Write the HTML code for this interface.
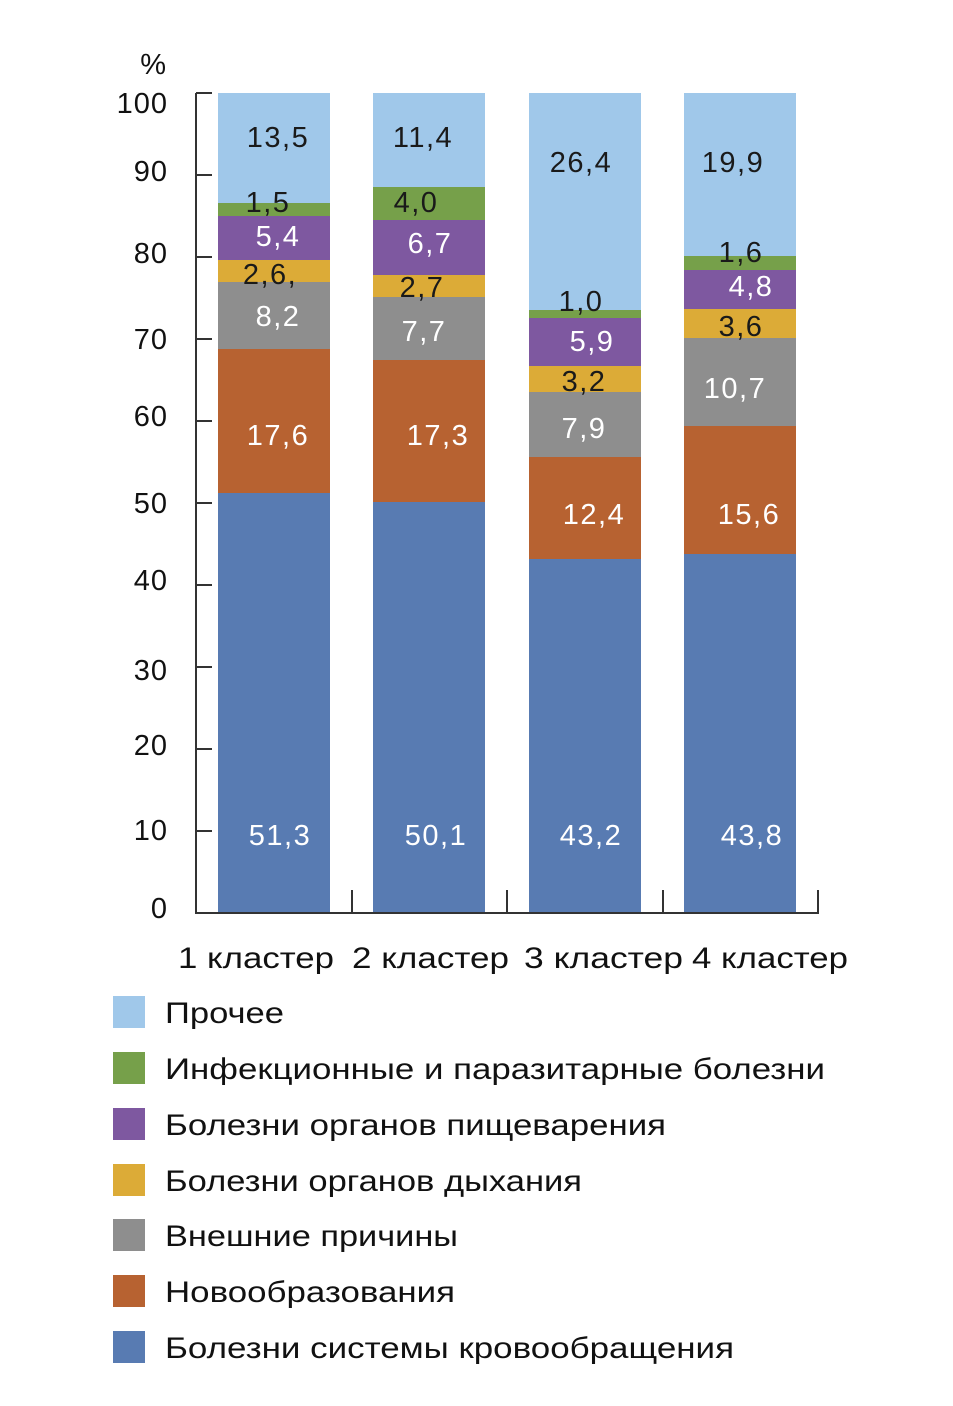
<!DOCTYPE html>
<html><head><meta charset="utf-8"><style>
body{margin:0;background:#fff}
text{font-family:"Liberation Sans",sans-serif}
</style></head><body>
<svg width="953" height="1401" viewBox="0 0 953 1401" xmlns="http://www.w3.org/2000/svg">
<g id="bars">
<rect x="218" y="93" width="112" height="110" fill="#a0c8ea"/>
<rect x="218" y="203" width="112" height="13" fill="#76a04a"/>
<rect x="218" y="216" width="112" height="44" fill="#7e58a0"/>
<rect x="218" y="260" width="112" height="22" fill="#dcab37"/>
<rect x="218" y="282" width="112" height="67" fill="#8e8e8e"/>
<rect x="218" y="349" width="112" height="144" fill="#b76231"/>
<rect x="218" y="493" width="112" height="420" fill="#587bb2"/>
<rect x="373" y="93" width="112" height="94" fill="#a0c8ea"/>
<rect x="373" y="187" width="112" height="33" fill="#76a04a"/>
<rect x="373" y="220" width="112" height="55" fill="#7e58a0"/>
<rect x="373" y="275" width="112" height="22" fill="#dcab37"/>
<rect x="373" y="297" width="112" height="63" fill="#8e8e8e"/>
<rect x="373" y="360" width="112" height="142" fill="#b76231"/>
<rect x="373" y="502" width="112" height="411" fill="#587bb2"/>
<rect x="529" y="93" width="112" height="217" fill="#a0c8ea"/>
<rect x="529" y="310" width="112" height="8" fill="#76a04a"/>
<rect x="529" y="318" width="112" height="48" fill="#7e58a0"/>
<rect x="529" y="366" width="112" height="26" fill="#dcab37"/>
<rect x="529" y="392" width="112" height="65" fill="#8e8e8e"/>
<rect x="529" y="457" width="112" height="102" fill="#b76231"/>
<rect x="529" y="559" width="112" height="354" fill="#587bb2"/>
<rect x="684" y="93" width="112" height="163" fill="#a0c8ea"/>
<rect x="684" y="256" width="112" height="14" fill="#76a04a"/>
<rect x="684" y="270" width="112" height="39" fill="#7e58a0"/>
<rect x="684" y="309" width="112" height="29" fill="#dcab37"/>
<rect x="684" y="338" width="112" height="88" fill="#8e8e8e"/>
<rect x="684" y="426" width="112" height="128" fill="#b76231"/>
<rect x="684" y="554" width="112" height="359" fill="#587bb2"/>
</g>
<g stroke="#333" stroke-width="2" fill="none">
<line x1="196" y1="93" x2="196" y2="914"/>
<line x1="196" y1="913" x2="819" y2="913"/>
<line x1="196" y1="93" x2="212" y2="93"/>
<line x1="196" y1="175" x2="212" y2="175"/>
<line x1="196" y1="257" x2="212" y2="257"/>
<line x1="196" y1="339" x2="212" y2="339"/>
<line x1="196" y1="421" x2="212" y2="421"/>
<line x1="196" y1="503" x2="212" y2="503"/>
<line x1="196" y1="585" x2="212" y2="585"/>
<line x1="196" y1="667" x2="212" y2="667"/>
<line x1="196" y1="749" x2="212" y2="749"/>
<line x1="196" y1="831" x2="212" y2="831"/>
<line x1="352" y1="890" x2="352" y2="913"/>
<line x1="507" y1="890" x2="507" y2="913"/>
<line x1="663" y1="890" x2="663" y2="913"/>
<line x1="818" y1="890" x2="818" y2="913"/>
</g>
<g font-size="29" fill="#111" text-anchor="end" letter-spacing="1">
<text x="167" y="74">%</text>
<text x="168" y="113">100</text>
<text x="168" y="181">90</text>
<text x="168" y="263">80</text>
<text x="168" y="349">70</text>
<text x="168" y="426">60</text>
<text x="168" y="513">50</text>
<text x="168" y="590">40</text>
<text x="168" y="680">30</text>
<text x="168" y="755">20</text>
<text x="168" y="840">10</text>
<text x="168" y="918">0</text>
</g>
<g font-size="29" text-anchor="middle" letter-spacing="1.5">
<g fill="#1a1a1a">
<text x="278" y="147">13,5</text><text x="268" y="212">1,5</text><text x="270" y="284">2,6,</text>
<text x="423" y="147">11,4</text><text x="416" y="212">4,0</text><text x="422" y="297">2,7</text>
<text x="581" y="172">26,4</text><text x="581" y="311">1,0</text><text x="584" y="391">3,2</text>
<text x="733" y="172">19,9</text><text x="741" y="262">1,6</text><text x="741" y="336">3,6</text>
</g>
<g fill="#fff">
<text x="278" y="246">5,4</text><text x="278" y="326">8,2</text><text x="278" y="445">17,6</text><text x="280" y="845">51,3</text>
<text x="430" y="253">6,7</text><text x="424" y="341">7,7</text><text x="438" y="445">17,3</text><text x="436" y="845">50,1</text>
<text x="592" y="351">5,9</text><text x="584" y="438">7,9</text><text x="594" y="524">12,4</text><text x="591" y="845">43,2</text>
<text x="751" y="296">4,8</text><text x="735" y="398">10,7</text><text x="749" y="524">15,6</text><text x="752" y="845">43,8</text>
</g>
</g>
<g font-size="30" fill="#111">
<text x="178" y="968" textLength="156" lengthAdjust="spacingAndGlyphs">1 кластер</text>
<text x="352" y="968" textLength="157" lengthAdjust="spacingAndGlyphs">2 кластер</text>
<text x="524" y="968" textLength="159" lengthAdjust="spacingAndGlyphs">3 кластер</text>
<text x="692" y="968" textLength="156" lengthAdjust="spacingAndGlyphs">4 кластер</text>
</g>
<g font-size="30" fill="#111">
<rect x="113" y="996" width="32" height="32" fill="#a0c8ea"/><text x="165" y="1023" textLength="119" lengthAdjust="spacingAndGlyphs">Прочее</text>
<rect x="113" y="1052" width="32" height="32" fill="#76a04a"/><text x="165" y="1079" textLength="660" lengthAdjust="spacingAndGlyphs">Инфекционные и паразитарные болезни</text>
<rect x="113" y="1108" width="32" height="32" fill="#7e58a0"/><text x="165" y="1135" textLength="501" lengthAdjust="spacingAndGlyphs">Болезни органов пищеварения</text>
<rect x="113" y="1164" width="32" height="32" fill="#dcab37"/><text x="165" y="1191" textLength="417" lengthAdjust="spacingAndGlyphs">Болезни органов дыхания</text>
<rect x="113" y="1219" width="32" height="32" fill="#8e8e8e"/><text x="165" y="1246" textLength="293" lengthAdjust="spacingAndGlyphs">Внешние причины</text>
<rect x="113" y="1275" width="32" height="32" fill="#b76231"/><text x="165" y="1302" textLength="290" lengthAdjust="spacingAndGlyphs">Новообразования</text>
<rect x="113" y="1331" width="32" height="32" fill="#587bb2"/><text x="165" y="1358" textLength="569" lengthAdjust="spacingAndGlyphs">Болезни системы кровообращения</text>
</g>
</svg>
</body></html>
